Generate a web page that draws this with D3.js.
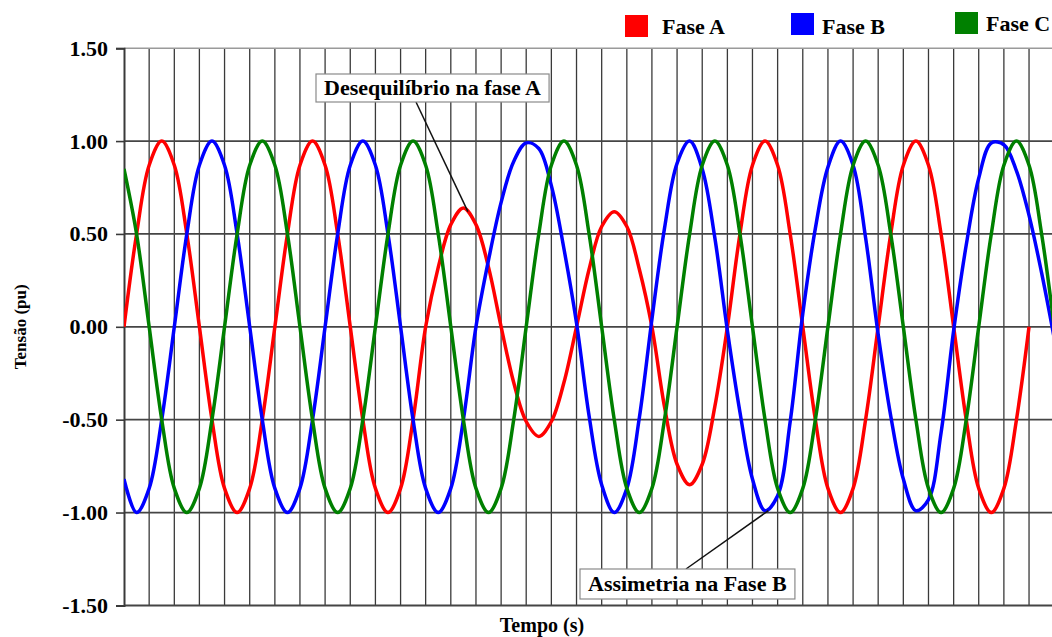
<!DOCTYPE html>
<html>
<head>
<meta charset="utf-8">
<script src="https://cdn.jsdelivr.net/npm/d3@7"></script>
<style>
  html, body { margin: 0; padding: 0; background: #fff; }
  svg { display: block; }
  text { font-family: "Liberation Serif", "Times New Roman", serif; font-weight: bold; fill: #000; }
</style>
</head>
<body>
<svg id="chart" width="1052" height="637"></svg>
<script>
// Sample instants (ms), one every 30 electrical degrees of a 60 Hz cycle
const tempoMs = [0, 1.39, 2.78, 4.17, 5.56, 6.94, 8.33, 9.72, 11.11, 12.5, 13.89, 15.28,
  16.67, 18.06, 19.44, 20.83, 22.22, 23.61, 25, 26.39, 27.78, 29.17, 30.56, 31.94,
  33.33, 34.72, 36.11, 37.5, 38.89, 40.28, 41.67, 43.06, 44.44, 45.83, 47.22, 48.61,
  50, 51.39, 52.78, 54.17, 55.56, 56.94, 58.33, 59.72, 61.11, 62.5, 63.89, 65.28,
  66.67, 68.06, 69.44, 70.83, 72.22, 73.61, 75, 76.39, 77.78, 79.17, 80.56, 81.94,
  83.33, 84.72, 86.11, 87.5, 88.89, 90.28, 91.67, 93.06, 94.44, 95.83, 97.22, 98.61,
  100, 101.39, 102.78];

// Phase voltages (pu) at those instants
const faseA = [0, .5, .87, 1, .87, .5, 0, -.5, -.87, -1, -.87, -.5,
  0, .5, .87, 1, .87, .5, 0, -.5, -.87, -1, -.87, -.5,
  0, .32, .55, .64, .55, .32, 0, -.3, -.51, -.59, -.51, -.3,
  0, .31, .54, .62, .54, .31, 0, -.43, -.74, -.85, -.74, -.43,
  0, .5, .87, 1, .87, .5, 0, -.5, -.87, -1, -.87, -.5,
  0, .5, .87, 1, .87, .5, 0, -.5, -.87, -1, -.87, -.5,
  0];

const faseB = [-.82, -1, -.87, -.5, 0, .5, .87, 1, .87, .5, 0, -.5,
  -.87, -1, -.87, -.5, 0, .5, .87, 1, .87, .5, 0, -.5,
  -.87, -1, -.87, -.5, 0,
  .36, .67, .89, .99, .96, .76, .42, .02,
  -.48, -.85, -1, -.87, -.49,
  .04, .53, .88, 1, .85, .48,
  -.02, -.46, -.82, -.99, -.91, -.51,
  .07, .53, .86, 1, .87, .48,
  -.04, -.48, -.82, -.99, -.93, -.57,
  -.02, .44, .80, .99, .98, .84, .60, .29, -.06];

const faseC = [.85, .5, 0, -.5, -.87, -1, -.87, -.5, 0, .5, .87, 1,
  .87, .5, 0, -.5, -.87, -1, -.87, -.5, 0, .5, .87, 1,
  .87, .5, 0, -.5, -.87, -1, -.87, -.5, 0, .5, .87, 1,
  .87, .5, 0, -.5, -.87, -1, -.87, -.5, 0, .5, .87, 1,
  .87, .5, 0, -.5, -.87, -1, -.87, -.5, 0, .5, .87, 1,
  .87, .5, 0, -.5, -.87, -1, -.87, -.5, 0, .5, .87, 1,
  .87, .5, 0];

const valoresY = [1.5, 1, 0.5, 0, -0.5, -1, -1.5];
const rotulosY = ["1.50", "1.00", "0.50", "0.00", "-0.50", "-1.00", "-1.50"];
const nomesFases = ["Fase A", "Fase B", "Fase C"];
const coresFases = ["#ff0000", "#0000ff", "#008000"];

const svg = d3.select("#chart");
const mEsq = 124, mDir = 1054.2, mTopo = 48.2, mBase = 605.4;

const x = d3.scaleLinear().domain([0, 102.78]).range([mEsq, mDir]);
const y = d3.scaleLinear().domain([-1.5, 1.5]).range([mBase, mTopo]);

// clip
svg.append("defs").append("clipPath").attr("id", "area")
  .append("rect").attr("x", mEsq).attr("y", mTopo - 2).attr("width", mDir - mEsq).attr("height", mBase - mTopo + 4);

// vertical grid: every 60 electrical degrees
const grade = svg.append("g");
grade.selectAll("line.v")
  .data(tempoMs.filter((d, i) => i % 2 === 0 && i > 0))
  .join("line").attr("class", "v")
  .attr("x1", d => x(d)).attr("x2", d => x(d))
  .attr("y1", mTopo).attr("y2", mBase)
  .attr("stroke", "#3a3a3a").attr("stroke-width", 1.3);

// horizontal grid
grade.selectAll("line.h")
  .data(valoresY.slice(1, -1))
  .join("line").attr("class", "h")
  .attr("x1", mEsq).attr("x2", 1052)
  .attr("y1", d => y(d)).attr("y2", d => y(d))
  .attr("stroke", "#454545").attr("stroke-width", 1.7);

// top frame
grade.append("line").attr("x1", mEsq).attr("x2", 1052).attr("y1", y(1.5)).attr("y2", y(1.5))
  .attr("stroke", "#9a9a9a").attr("stroke-width", 1.6);
// bottom axis
grade.append("line").attr("x1", mEsq).attr("x2", 1052).attr("y1", y(-1.5)).attr("y2", y(-1.5))
  .attr("stroke", "#454545").attr("stroke-width", 2);

// y axis
const eixoY = d3.axisLeft(y).tickValues(valoresY).tickSize(8).tickPadding(8)
  .tickFormat((d, i) => rotulosY[i]);
const gy = svg.append("g").attr("transform", `translate(${mEsq},0)`).call(eixoY);
gy.select(".domain").attr("stroke", "#3a3a3a").attr("stroke-width", 2);
gy.selectAll(".tick line").attr("stroke", "#3a3a3a").attr("stroke-width", 1.6);
gy.selectAll(".tick text").attr("font-family", "Liberation Serif, Times New Roman, serif")
  .attr("font-weight", "bold").attr("font-size", 22).attr("fill", "#000");

// waveforms
const linha = d3.line()
  .x((d, i) => x(tempoMs[i]))
  .y(d => y(d))
  .curve(d3.curveCatmullRom);

const ondas = svg.append("g").attr("clip-path", "url(#area)");
[faseA, faseB, faseC].forEach((serie, k) => {
  ondas.append("path").datum(serie)
    .attr("d", linha)
    .attr("fill", "none")
    .attr("stroke", coresFases[k])
    .attr("stroke-width", 3.5)
    .attr("stroke-linejoin", "round");
});

// legend
const legenda = [
  { qx: 625, qy: 15, tx: 662, ty: 34 },
  { qx: 791, qy: 13, tx: 822, ty: 34 },
  { qx: 955, qy: 12, tx: 986, ty: 31 }
];
legenda.forEach((p, k) => {
  svg.append("rect").attr("x", p.qx).attr("y", p.qy).attr("width", 23).attr("height", 22)
    .attr("fill", coresFases[k]);
  svg.append("text").attr("x", p.tx).attr("y", p.ty).attr("font-size", 22).text(nomesFases[k]);
});

// axis titles
svg.append("text")
  .attr("transform", `translate(26,${y(0)}) rotate(-90)`)
  .attr("text-anchor", "middle").attr("font-size", 17).text("Tensão (pu)");
svg.append("text")
  .attr("x", 542).attr("y", 632).attr("text-anchor", "middle")
  .attr("font-size", 20).text("Tempo (s)");

// annotations
function nota(texto, tx, ty, caixaY, caixaH, de, para) {
  svg.append("line")
    .attr("x1", de[0]).attr("y1", de[1]).attr("x2", para[0]).attr("y2", para[1])
    .attr("stroke", "#111").attr("stroke-width", 1.5);
  const g = svg.append("g");
  const r = g.append("rect");
  const t = g.append("text").attr("x", tx).attr("y", ty).attr("font-size", 22).text(texto);
  const bb = t.node().getBBox();
  r.attr("x", bb.x - 8).attr("y", caixaY).attr("width", bb.width + 16).attr("height", caixaH)
    .attr("fill", "#fff").attr("stroke", "#8a8a8a").attr("stroke-width", 1.2);
}
nota("Desequilíbrio na fase A", 324, 95, 74, 28, [416, 102], [x(38.0), y(0.62)]);
nota("Assimetria na Fase B", 588, 591, 569, 30, [686, 569], [x(71.2), y(-0.99)]);
</script>
</body>
</html>
